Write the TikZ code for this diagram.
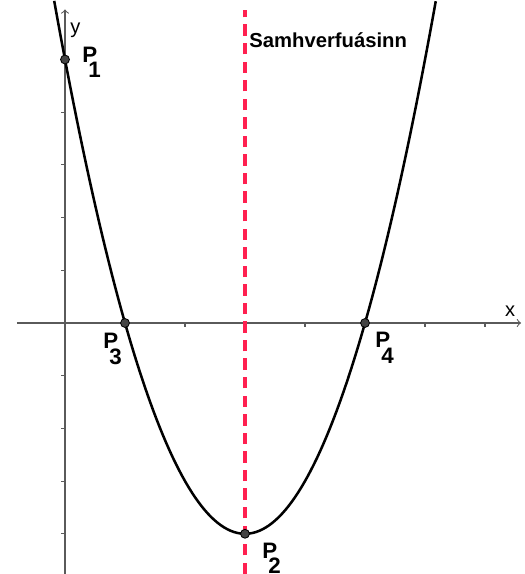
\documentclass[tikz,border=0pt]{standalone}
\usepackage{fontspec}
\setmainfont{Liberation Sans}
\usepackage{xcolor}
\usetikzlibrary{positioning}

\definecolor{aslina}{RGB}{255,32,80}
\definecolor{punktur}{RGB}{68,68,68}
\definecolor{asgrar}{RGB}{90,90,90}
\newcommand{\Pnafn}[1]{\textbf{P\kern-0.4em\raisebox{-0.68em}{#1}}}

\begin{document}
\begin{tikzpicture}[x=1cm, y=0.8783cm, >=to,
		lbl/.style={anchor=base west, inner sep=0pt, font=\fontsize{10.6}{12}\selectfont},
		pnt/.style={fill=punktur, draw=black, line width=0.4pt}]
		\useasboundingbox (-1.0833,-4.763) rectangle (7.65,6.129);

		% ásar
		\draw[->, asgrar, line width=0.5pt] (-0.8, 0) coordinate (xs) -- (7.6, 0) coordinate (xe);
		\draw[->, asgrar, line width=0.5pt] (0, -4.763) coordinate (ys) -- (0, 5.95) coordinate (ye);
		\foreach \i in {1,...,7} \draw[asgrar, line width=0.5pt] (\i, 0) -- (\i, -0.076);
		\foreach \j in {-4,...,-1,1,2,...,5} \draw[asgrar, line width=0.5pt] (0, \j) -- (-0.067, \j);
		\node[lbl, font=\fontsize{9.5}{11}\selectfont] (xl) at ([shift={(-0.27, 0.114)}]xe) {x};
		\node[lbl, font=\fontsize{9.5}{11}\selectfont] (yl) at ([shift={(0.083, -0.45)}]ye) {y};

		% samhverfuás
		\draw[aslina, line width=1.45pt, dash pattern=on 5.4pt off 3.4pt] (3, -4.763) -- (3, 5.94) coordinate (atop);
		\node[lbl, font=\fontsize{9.6}{12}\selectfont\bfseries] (sam) at ([shift={(0.067, -0.72)}]atop) {Samhverfuásinn};

		% fleygboginn
		\draw[black, line width=1.2pt, domain=-0.18:6.18, samples=120] plot (\x, {(\x-1)*(\x-5)});

		\coordinate (p1) at (0, 5);
		\coordinate (p2) at (3, -4);
		\coordinate (p3) at (1, 0);
		\coordinate (p4) at (5, 0);
		\foreach \p in {p1, p2, p3, p4} \filldraw[pnt] (\p) circle (2.1pt);

		\node[lbl] (l1) at ([shift={(0.283, -0.057)}]p1) {\Pnafn{1}};
		\node[lbl] (l2) at ([shift={(0.283, -0.474)}]p2) {\Pnafn{2}};
		\node[lbl] (l3) at ([shift={(-0.367, -0.493)}]p3) {\Pnafn{3}};
		\node[lbl] (l4) at ([shift={(0.167, -0.474)}]p4) {\Pnafn{4}};
	\end{tikzpicture}
\end{document}
